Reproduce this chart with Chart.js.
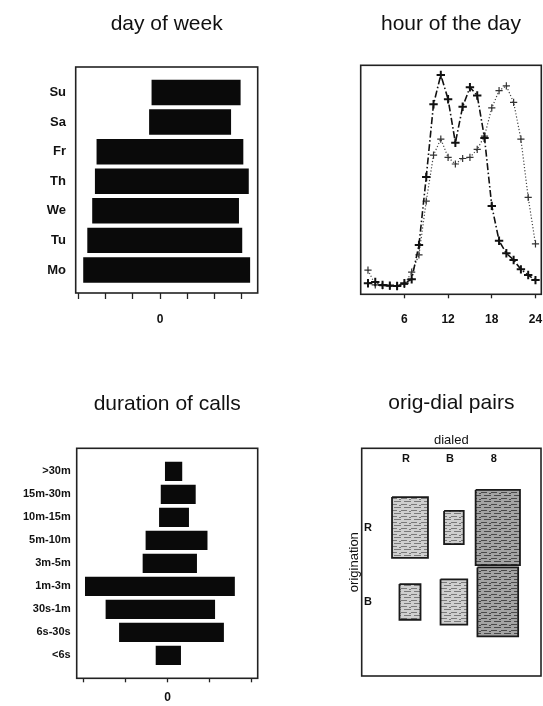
<!doctype html>
<html>
<head>
<title>Calls</title>
<script src="https://cdn.jsdelivr.net/npm/chart.js"></script>
<style>
  body { margin: 0; background: #fff; overflow: hidden; }
  canvas { position: absolute; }
</style>
</head>
<body>
<canvas id="week" width="271" height="353" style="left:0;top:0"></canvas>
<canvas id="hour" width="292" height="353" style="left:271px;top:0"></canvas>
<canvas id="duration" width="271" height="353" style="left:0;top:353px"></canvas>
<canvas id="pairs" width="272" height="353" style="left:271px;top:353px"></canvas>
<script>
// day of week (bottom to top)
var days = ['Mo', 'Tu', 'We', 'Th', 'Fr', 'Sa', 'Su'];
var dayStart = [-2.82, -2.67, -2.49, -2.39, -2.33, -0.40, -0.31];
var dayEnd = [3.31, 3.02, 2.90, 3.26, 3.06, 2.61, 2.96];
var weekTicks = [-3, -2, -1, 0, 1, 2, 3];

// hour of the day
var hours = [1, 2, 3, 4, 5, 6, 7, 8, 9, 10, 11, 12, 13, 14, 15, 16, 17, 18, 19, 20, 21, 22, 23, 24];
var hourA = [4.8, 5.4, 4.1, 3.8, 3.6, 4.8, 6.6, 21.5, 51.2, 83.0, 95.8, 85.2, 66.2, 81.9, 90.4, 86.8, 68.3, 38.6, 23.4, 17.9, 15.0, 10.9, 8.4, 6.2];
var hourB = [10.6, 4.1, 3.8, 3.6, 3.4, 4.3, 9.7, 17.2, 40.7, 60.8, 67.8, 59.8, 56.9, 59.3, 59.8, 63.3, 69.1, 81.4, 88.9, 91.0, 83.8, 67.8, 42.3, 22.0];
var hourTicks = [6, 12, 18, 24];

// duration of calls (bottom to top)
var durations = ['<6s', '6s-30s', '30s-1m', '1m-3m', '3m-5m', '5m-10m', '10m-15m', '15m-30m', '>30m'];
var durStart = [-0.28, -1.15, -1.47, -1.96, -0.59, -0.52, -0.20, -0.16, -0.06];
var durEnd = [0.32, 1.34, 1.13, 1.60, 0.70, 0.95, 0.51, 0.67, 0.35];
var durTicks = [-2, -1, 0, 1, 2];

// orig-dial pairs
var dialed = ['R', 'B', '8'];
var origination = ['R', 'B'];
var pairCounts = [
    [67, 20, 102],
    [23, 37, 86]
];

Chart.defaults.font.family = '"Liberation Sans", Arial, Helvetica, sans-serif';
Chart.defaults.color = '#111';

var frame = {
    id: 'frame',
    afterDatasetsDraw: function (chart) {
        var a = chart.chartArea, ctx = chart.ctx;
        ctx.save();
        ctx.strokeStyle = '#222';
        ctx.lineWidth = 1.6;
        ctx.strokeRect(a.left, a.top, a.right - a.left, a.bottom - a.top);
        ctx.restore();
    }
};

function width(w) { return function (s) { s.width = w; }; }
function height(h) { return function (s) { s.height = h; }; }
function ticksAt(values) {
    return function (s) { s.ticks = values.map(function (v) { return { value: v }; }); };
}
function indexes(list) { return list.map(function (d, i) { return i; }); }

function titleOpts(text, top, bottom) {
    return {
        display: true, text: text, color: '#111', fullSize: false,
        font: { size: 21, weight: 'normal' },
        padding: { top: top, bottom: bottom }
    };
}

var quiet = { legend: { display: false }, tooltip: { enabled: false } };

function tickMarks(len) {
    return { drawOnChartArea: false, drawTicks: true, tickLength: len, tickColor: '#222', tickWidth: 1.3 };
}
var noGrid = { display: false, drawTicks: false };

// day of week
new Chart(document.getElementById('week'), {
    type: 'bar',
    data: {
        datasets: [{
            data: days.map(function (d, i) { return { y: i, x: [dayStart[i], dayEnd[i]] }; }),
            backgroundColor: '#0a0a0a',
            categoryPercentage: 1,
            barPercentage: 0.86
        }]
    },
    options: {
        indexAxis: 'y',
        responsive: false,
        animation: false,
        layout: { padding: { left: 0, right: 13.3, top: 0, bottom: 0 } },
        plugins: Object.assign({ title: titleOpts('day of week', 12, 29.8) }, quiet),
        scales: {
            x: {
                type: 'linear', min: -3.096, max: 3.588,
                border: { display: false },
                grid: tickMarks(6),
                ticks: { padding: 13.8, autoSkip: false, maxRotation: 0, font: { size: 12, weight: 'bold' },
                    callback: function (v) { return v === 0 ? '0' : ''; } },
                afterBuildTicks: ticksAt(weekTicks),
                afterFit: height(60)
            },
            y: {
                type: 'linear', min: -0.778, max: 6.862, offset: false,
                border: { display: false },
                grid: noGrid,
                ticks: { padding: 9.7, autoSkip: false, font: { size: 13, weight: 'bold' },
                    callback: function (v) { return days[v]; } },
                afterBuildTicks: ticksAt(indexes(days)),
                afterFit: width(75.7)
            }
        }
    },
    plugins: [frame]
});

// hour of the day (canvas runs past the page edge so the right padding is not squeezed)
new Chart(document.getElementById('hour'), {
    type: 'scatter',
    data: {
        datasets: [{
            data: hours.map(function (h, i) { return { x: h, y: hourA[i] }; }),
            showLine: true,
            borderColor: '#111',
            borderWidth: 1.6,
            borderDash: [7, 2.5, 1.5, 2.5],
            pointStyle: 'cross',
            pointRadius: 4.2,
            pointBorderWidth: 2,
            pointBorderColor: '#111'
        }, {
            data: hours.map(function (h, i) { return { x: h, y: hourB[i] }; }),
            showLine: true,
            borderColor: '#444',
            borderWidth: 1.2,
            borderDash: [1.2, 2],
            pointStyle: 'cross',
            pointRadius: 3.6,
            pointBorderWidth: 1.2,
            pointBorderColor: '#333'
        }]
    },
    options: {
        responsive: false,
        animation: false,
        layout: { padding: { left: 0, right: 21.7, top: 0, bottom: 0 } },
        plugins: Object.assign({ title: titleOpts('hour of the day', 12, 28.1) }, quiet),
        scales: {
            x: {
                type: 'linear', min: 0, max: 24.8,
                border: { display: false },
                grid: tickMarks(4),
                ticks: { padding: 13.8, autoSkip: false, maxRotation: 0, font: { size: 12, weight: 'bold' } },
                afterBuildTicks: ticksAt(hourTicks),
                afterFit: height(58.7)
            },
            y: {
                type: 'linear', min: 0, max: 100,
                border: { display: false },
                grid: noGrid,
                ticks: { display: false },
                afterFit: width(89.7)
            }
        }
    },
    plugins: [frame]
});

// duration of calls
new Chart(document.getElementById('duration'), {
    type: 'bar',
    data: {
        datasets: [{
            data: durations.map(function (d, i) { return { y: i, x: [durStart[i], durEnd[i]] }; }),
            backgroundColor: '#0a0a0a',
            categoryPercentage: 1,
            barPercentage: 0.84
        }]
    },
    options: {
        indexAxis: 'y',
        responsive: false,
        animation: false,
        layout: { padding: { left: 0, right: 13.3, top: 0, bottom: 0 } },
        plugins: Object.assign({ title: titleOpts('duration of calls', 38.4, 31.7) }, quiet),
        scales: {
            x: {
                type: 'linear', min: -2.157, max: 2.143,
                border: { display: false },
                grid: tickMarks(4),
                ticks: { padding: 8, autoSkip: false, maxRotation: 0, font: { size: 12, weight: 'bold' },
                    callback: function (v) { return v === 0 ? '0' : ''; } },
                afterBuildTicks: ticksAt(durTicks),
                afterFit: height(27.7)
            },
            y: {
                type: 'linear', min: -1, max: 9, offset: false,
                border: { display: false },
                grid: noGrid,
                ticks: { padding: 6, autoSkip: false, font: { size: 11, weight: 'bold' },
                    callback: function (v) { return durations[v]; } },
                afterBuildTicks: ticksAt(indexes(durations)),
                afterFit: width(76.7)
            }
        }
    },
    plugins: [frame]
});

// orig-dial pairs: one square per cell, area from the count
function texture(base, streak) {
    var c = document.createElement('canvas');
    c.width = 10; c.height = 6;
    var g = c.getContext('2d');
    g.fillStyle = base; g.fillRect(0, 0, 10, 6);
    g.fillStyle = streak;
    g.fillRect(0, 1, 6, 1); g.fillRect(3, 4, 7, 1); g.fillRect(8, 2, 2, 1);
    return g.createPattern(c, 'repeat');
}
var lightFill = texture('#cfcfcf', '#7a7a7a');
var darkFill = texture('#a4a4a4', '#4a4a4a');

var pairSets = [];
origination.forEach(function (o, r) {
    dialed.forEach(function (d, c) {
        var h = Math.sqrt(pairCounts[r][c]) / 20;
        pairSets.push({
            data: [
                { x: c - h, y: r - h }, { x: c + h, y: r - h },
                { x: c + h, y: r + h }, { x: c - h, y: r + h }, { x: c - h, y: r - h }
            ],
            showLine: true,
            fill: 'shape',
            backgroundColor: c === 2 ? darkFill : lightFill,
            borderColor: '#1a1a1a',
            borderWidth: 1.8,
            pointRadius: 0
        });
    });
});

new Chart(document.getElementById('pairs'), {
    type: 'scatter',
    data: { datasets: pairSets },
    options: {
        responsive: false,
        animation: false,
        layout: { padding: { left: 90.7, right: 2, top: 0, bottom: 30 } },
        plugins: Object.assign({ title: titleOpts('orig-dial pairs', 38.1, 32) }, quiet),
        scales: {
            x: {
                type: 'linear', position: 'top', min: -1.1, max: 2.984,
                border: { display: false },
                grid: noGrid,
                title: { display: true, text: 'dialed', font: { size: 13 }, padding: { top: -15.4, bottom: 0 } },
                ticks: { mirror: true, padding: 4.4, labelOffset: -4, autoSkip: false, maxRotation: 0,
                    font: { size: 11, weight: 'bold' },
                    callback: function (v) { return dialed[v]; } },
                afterBuildTicks: ticksAt(indexes(dialed)),
                afterFit: height(0)
            },
            y: {
                type: 'linear', reverse: true, min: -1.065, max: 1.996,
                border: { display: false },
                grid: noGrid,
                title: { display: true, text: 'origination', font: { size: 13 }, padding: { top: -15.5, bottom: 0 } },
                ticks: { mirror: true, padding: 2.3, autoSkip: false, font: { size: 11, weight: 'bold' },
                    callback: function (v) { return origination[v]; } },
                afterBuildTicks: ticksAt(indexes(origination)),
                afterFit: width(0)
            }
        }
    },
    plugins: [frame]
});
</script>
</body>
</html>
